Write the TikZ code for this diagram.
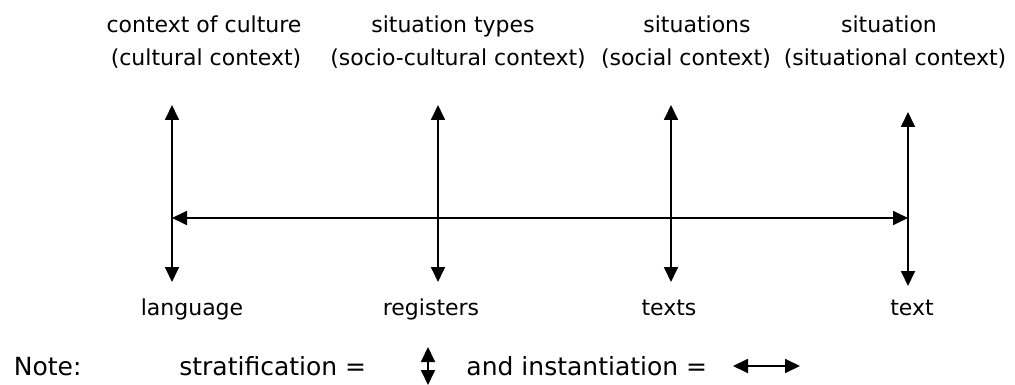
\documentclass[tikz,border=0pt]{standalone}
\usepackage{fontspec}
\setmainfont{DejaVu Sans}
\usetikzlibrary{arrows.meta}
\newcommand{\labelsize}{\fontsize{22}{26}\selectfont}
\newcommand{\notesize}{\fontsize{25}{30}\selectfont}
\begin{document}
	\begin{tikzpicture}[x=1pt, y=-1pt, line width=1.8pt,
		>={Triangle[length=15pt,width=14pt]},
		toplabel/.style={font=\labelsize, inner sep=0pt, anchor=base},
		notetext/.style={font=\notesize, inner sep=0pt, anchor=base east}]
		\useasboundingbox (0,0) rectangle (1015,385);
		\node (culture) [toplabel] at (204,33) {context of culture};
		\node (types) [toplabel] at (453,33) {situation types};
		\node (situations) [toplabel] at (697,33) {situations};
		\node (situation) [toplabel] at (889,33) {situation};
		\node (culturalctx) [toplabel] at (206,66) {(cultural context)};
		\node (socioctx) [toplabel] at (458,66) {(socio-cultural context)};
		\node (socialctx) [toplabel] at (686,66) {(social context)};
		\node (situationalctx) [toplabel] at (895,66) {(situational context)};
		\node (language) [toplabel] at (192,315) {language};
		\node (registers) [toplabel] at (431,315) {registers};
		\node (texts) [toplabel] at (669,315) {texts};
		\node (text) [toplabel] at (912,315) {text};
		\coordinate (language-top) at (172,105);
		\coordinate (language-bot) at (172,282);
		\coordinate (registers-top) at (438,105);
		\coordinate (registers-bot) at (438,282);
		\coordinate (texts-top) at (671,105);
		\coordinate (texts-bot) at (671,282);
		\coordinate (text-top) at (908,112);
		\coordinate (text-bot) at (908,286);
		\coordinate (language-mid) at (172,218);
		\coordinate (text-mid) at (908,218);
		\draw [<->] (language-top) -- (language-bot);
		\draw [<->] (registers-top) -- (registers-bot);
		\draw [<->] (texts-top) -- (texts-bot);
		\draw [<->] (text-top) -- (text-bot);
		\draw [<->] (language-mid) -- (text-mid);
		\node (note) [notetext, anchor=base west] at (13,375) {Note:};
		\node (strat) [notetext] at (367,375) {stratification =};
		\node (inst) [notetext] at (708,375) {and instantiation =};
		\coordinate (strat-top) at (428,347);
		\coordinate (strat-bot) at (428,385);
		\coordinate (inst-left) at (733,366);
		\coordinate (inst-right) at (800,366);
		\draw [<->] (strat-top) -- (strat-bot);
		\draw [<->] (inst-left) -- (inst-right);
	\end{tikzpicture}
\end{document}
